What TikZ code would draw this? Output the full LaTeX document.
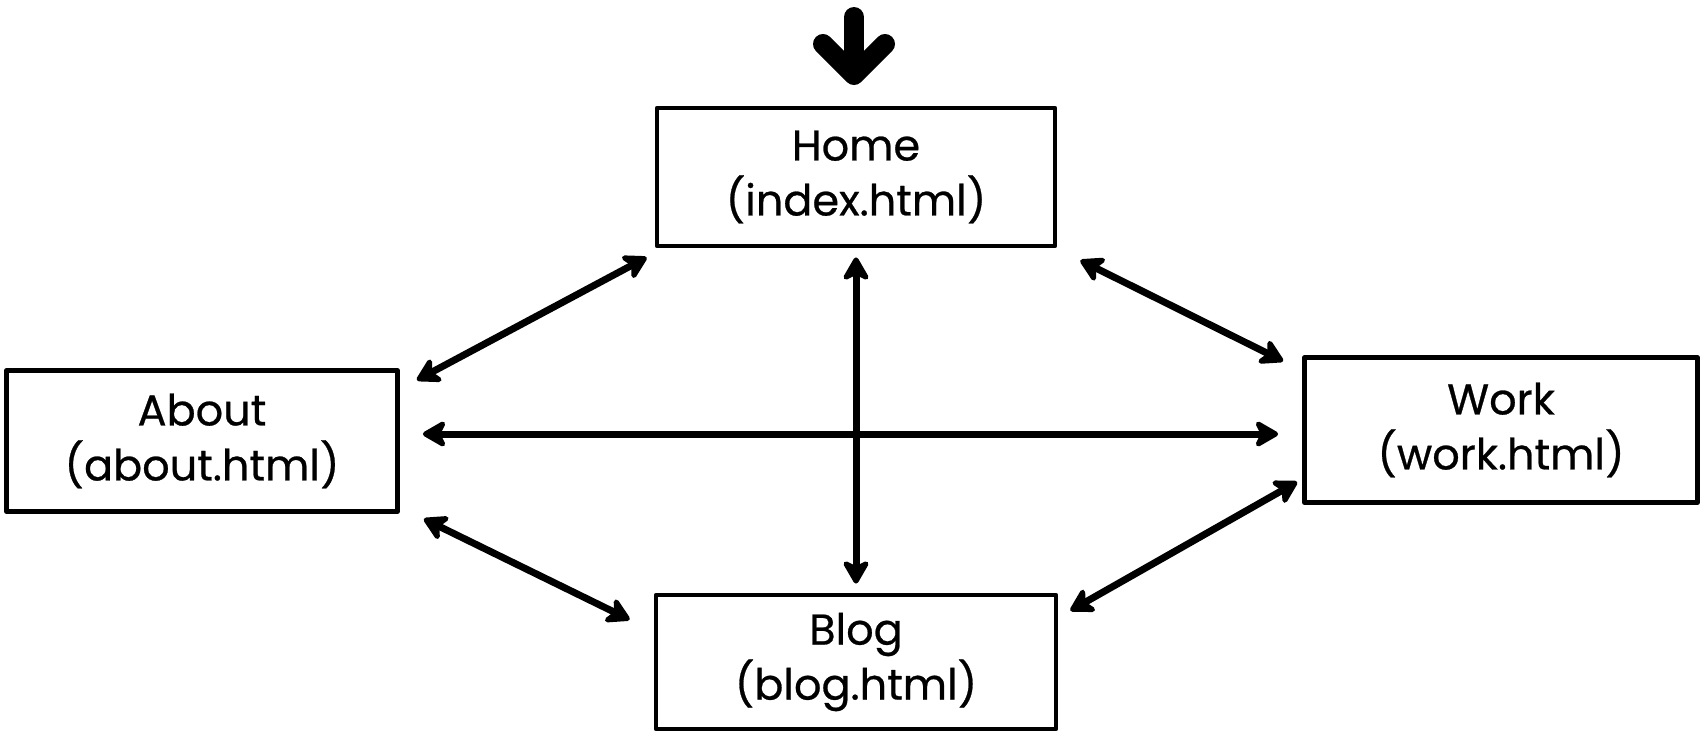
\documentclass[tikz,border=0pt]{standalone}
\usepackage{fontspec}
\setmainfont{Poppins}[FakeBold=0.6]
\usetikzlibrary{arrows.meta}
\tikzset{
  page/.style={draw, line width=2.4pt, rectangle, align=center,
    font=\fontsize{21.5}{27.5}\selectfont, inner sep=0pt, line join=round},
  link/.style={line width=3.5pt, line cap=round,
    {Stealth[length=14pt,width=16pt,inset=4pt,round]}-{Stealth[length=14pt,width=16pt,inset=4pt,round]}},
  entryarrow/.style={line width=10pt, line cap=round, line join=round}
}
\begin{document}
\begin{tikzpicture}[x=0.5pt,y=-0.5pt]
\useasboundingbox (0,0) rectangle (1702,734);
\node[page, minimum width=199pt, minimum height=69pt] (home) at (856,177) {Home\\(index.html)\rule[-4pt]{0pt}{0pt}};
\node[page, minimum width=195.5pt, minimum height=70.5pt] (about) at (202,441) {About\\(about.html)\rule[-4pt]{0pt}{0pt}};
\node[page, minimum width=196.5pt, minimum height=72.5pt] (work) at (1501,430) {Work\\(work.html)\rule[-4pt]{0pt}{0pt}};
\node[page, minimum width=200pt, minimum height=67pt] (blog) at (856,662) {Blog\\(blog.html)\rule[-4pt]{0pt}{0pt}};
% entry arrow
\coordinate (entrytop) at (854,17);
\coordinate (entrytip) at (854,75);
\draw[entryarrow] (entrytop) -- ([shift={(0,-6)}]entrytip);
\draw[entryarrow] ([shift={(-31,-31)}]entrytip) -- (entrytip) -- ([shift={(31,-31)}]entrytip);
% links
\draw[link] ([shift={(-8,9)}]home.south west) -- ([shift={(17,12)}]about.north east);
\draw[link] ([shift={(0,9)}]home.south) -- ([shift={(0,-9)}]blog.north);
\draw[link] ([shift={(23,12)}]home.south east) -- ([shift={(-19,6)}]work.north west);
\draw[link] ([shift={(23,-7)}]about.east) -- ([shift={(-24,4)}]work.west);
\draw[link] ([shift={(24,5)}]about.south east) -- ([shift={(-24,27)}]blog.north west);
\draw[link] ([shift={(-5,-23)}]work.south west) -- ([shift={(12,18)}]blog.north east);
\end{tikzpicture}
\end{document}
